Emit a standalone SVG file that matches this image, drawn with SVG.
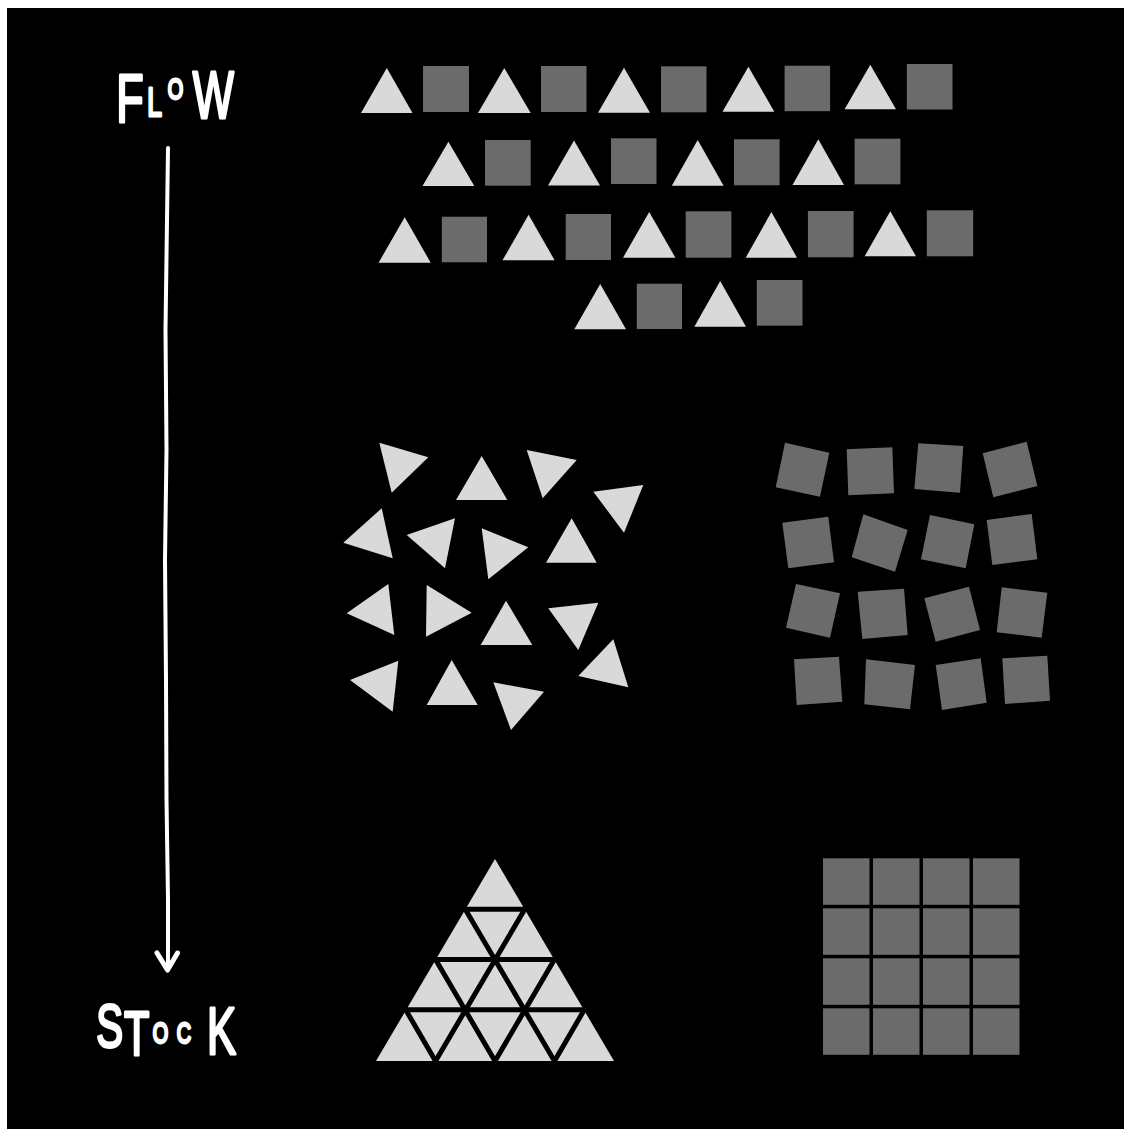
<svg xmlns="http://www.w3.org/2000/svg" width="1124" height="1129" viewBox="0 0 1124 1129">
<style>
.tri{fill:#d9d9d9}
.sq{fill:#6b6b6b}
.hand{fill:#ffffff;stroke:#ffffff;stroke-width:3;stroke-linejoin:round;font-family:"Liberation Sans",Arial,sans-serif}
.wire{fill:none;stroke:#ffffff;stroke-linecap:round;stroke-linejoin:round}
.gap{stroke:#000;stroke-width:5;fill:none}
</style>
<rect x="0" y="0" width="1124" height="1129" fill="#ffffff"/>
<rect x="7" y="8" width="1117" height="1121" fill="#000000"/>

<g id="label-flow">
<text class="hand" transform="scale(0.66,1)"><tspan x="176" y="122" font-size="68">F</tspan><tspan x="223" y="116" font-size="40">L</tspan><tspan x="254" y="99" font-size="30">O</tspan><tspan x="292" y="118" font-size="66">W</tspan></text>
</g>

<g id="label-stock">
<text class="hand" transform="scale(0.66,1)"><tspan x="146" y="1047" font-size="61">S</tspan><tspan x="188" y="1055" font-size="63">T</tspan><tspan x="231.5" y="1043" font-size="30">O</tspan><tspan x="268" y="1043" font-size="30">C</tspan><tspan x="313.6" y="1054" font-size="66">K</tspan></text>
</g>

<g id="connectors">
<path class="wire" stroke-width="4" d="M168,148 L167,220 L165.5,330 L166.5,450 L165,560 L166,680 L166.5,800 L168,900 L168,968"/>
<path class="wire" stroke-width="5" d="M157,953 L167.5,970 L177.5,953"/>
</g>

<g id="flow-rows">
<g id="row-1">
<polygon class="tri" points="361,113 386.8,68 412.5,113"/>
<rect class="sq" x="423" y="66" width="46" height="46"/>
<polygon class="tri" points="478,113 504.3,68 530.7,113"/>
<rect class="sq" x="541" y="66" width="45.5" height="46"/>
<polygon class="tri" points="598,112.7 624,67.7 650,112.7"/>
<rect class="sq" x="661" y="66.3" width="45.5" height="46"/>
<polygon class="tri" points="722.5,111.7 748.4,66.7 774.3,111.7"/>
<rect class="sq" x="784.6" y="65.7" width="45.5" height="45.5"/>
<polygon class="tri" points="844.6,109.3 870.3,64.7 896,109.3"/>
<rect class="sq" x="906.8" y="64" width="45.7" height="45.5"/>
</g>
<g id="row-2">
<polygon class="tri" points="422.5,186 448.4,141.7 474.3,186"/>
<rect class="sq" x="485" y="140" width="45.7" height="45.7"/>
<polygon class="tri" points="548,185.5 574,140.5 600,185.5"/>
<rect class="sq" x="611" y="138.3" width="45.5" height="45.7"/>
<polygon class="tri" points="671.8,185.7 697.7,140 723.6,185.7"/>
<rect class="sq" x="734" y="139.3" width="45.6" height="46"/>
<polygon class="tri" points="792.5,185 818.3,139.3 844,185"/>
<rect class="sq" x="854.6" y="138.7" width="45.8" height="45.6"/>
</g>
<g id="row-3">
<polygon class="tri" points="378.6,262.7 404.7,217.3 430.7,262.7"/>
<rect class="sq" x="441.8" y="216.7" width="45.2" height="45.6"/>
<polygon class="tri" points="502.5,260.3 528.6,214.7 554.6,260.3"/>
<rect class="sq" x="565.7" y="214" width="45.3" height="46"/>
<polygon class="tri" points="623,257.7 649.2,212 675.4,257.7"/>
<rect class="sq" x="685.7" y="211.3" width="45.7" height="46.4"/>
<polygon class="tri" points="745.7,257.7 771.4,212 797,257.7"/>
<rect class="sq" x="807.9" y="211" width="45.7" height="46.3"/>
<polygon class="tri" points="864.6,256.3 890.3,211.3 916,256.3"/>
<rect class="sq" x="926.8" y="210.3" width="46.4" height="46"/>
</g>
<g id="row-4">
<polygon class="tri" points="574.3,329.3 600.2,284 626,329.3"/>
<rect class="sq" x="636.8" y="283.7" width="45.2" height="45.3"/>
<polygon class="tri" points="694.3,326.7 720.2,281 746,326.7"/>
<rect class="sq" x="756.8" y="280" width="45.7" height="45.7"/>
</g>
</g>

<g id="scattered-triangles">
<polygon class="tri" points="379.3,442.7 428.3,457.3 391.7,492.7"/>
<polygon class="tri" points="481.7,456 456,500 507.3,500"/>
<polygon class="tri" points="526.7,450 576.7,460 542.7,498.3"/>
<polygon class="tri" points="593.3,491.7 643.3,485 624,532.7"/>
<polygon class="tri" points="381.7,508.3 343.3,542.7 392.7,558.3"/>
<polygon class="tri" points="406.7,535 455,518.3 445,568.3"/>
<polygon class="tri" points="481.7,528.3 528.3,547.3 488.3,579.3"/>
<polygon class="tri" points="571.7,518.3 546,562.7 596.7,562.7"/>
<polygon class="tri" points="388.3,584 346.7,613.3 394.3,635"/>
<polygon class="tri" points="426.7,585 471.7,612.7 426,636.7"/>
<polygon class="tri" points="506,600.7 480.7,645 532.3,645"/>
<polygon class="tri" points="548.3,608.3 598.3,602.7 578.3,650"/>
<polygon class="tri" points="613.3,639.3 578.3,676 628.3,687.3"/>
<polygon class="tri" points="398.3,660.7 350,680 392.7,711.7"/>
<polygon class="tri" points="451.7,660 426.7,705 477.7,705"/>
<polygon class="tri" points="493.3,682.3 544,691.7 511,730"/>
</g>

<g id="scattered-squares">
<polygon class="sq" points="785,442.7 829.3,452.7 820,496.7 775.7,487.3"/>
<polygon class="sq" points="846.7,449.3 892.3,447.3 894,493.3 848.3,495.3"/>
<polygon class="sq" points="918.3,443.3 963.3,446 960,492.7 914.3,489"/>
<polygon class="sq" points="982.7,453.3 1026.7,441.7 1037.3,486 993.3,497.3"/>
<polygon class="sq" points="782.3,522.7 828.3,516.7 834,562.3 788.3,568.3"/>
<polygon class="sq" points="863.3,514.3 907.7,530 895,571.7 851.7,557.3"/>
<polygon class="sq" points="930,515 974.3,524.3 965.7,568.3 921,559.3"/>
<polygon class="sq" points="986.7,520 1031.7,514 1037.3,559.3 992.3,565"/>
<polygon class="sq" points="796,584 840,593.3 830,637.7 786,627.7"/>
<polygon class="sq" points="857.7,591.7 904,588.7 907.7,635 862.3,639"/>
<polygon class="sq" points="924.3,598.3 969,586.7 980,630 935.7,641.7"/>
<polygon class="sq" points="1001.7,587.3 1047.3,592.7 1041.7,637.7 996.7,632.3"/>
<polygon class="sq" points="794,659.3 839,656.7 842.3,701.7 796.7,705"/>
<polygon class="sq" points="866,659.3 915,665 910,709.3 864.3,704.3"/>
<polygon class="sq" points="935.7,665 980.7,658.3 986.7,702.7 942,710"/>
<polygon class="sq" points="1002.3,658.3 1047.3,655.7 1050,700.7 1005,704"/>
</g>

<g id="stock-pyramid">
<polygon class="tri" points="376,1061 495,859 614,1061"/>
<g class="gap">
<line x1="460" y1="909.25" x2="530" y2="909.25"/>
<line x1="432" y1="959.5" x2="558" y2="959.5"/>
<line x1="402" y1="1009.75" x2="588" y2="1009.75"/>
<line x1="526.8" y1="905.8" x2="433.5" y2="1064.5"/>
<line x1="556.5" y1="956" x2="493" y2="1064.5"/>
<line x1="586.3" y1="1006.3" x2="552.5" y2="1064.5"/>
<line x1="463.2" y1="905.8" x2="556.5" y2="1064.5"/>
<line x1="433.5" y1="956" x2="497" y2="1064.5"/>
<line x1="403.7" y1="1006.3" x2="437.5" y2="1064.5"/>
</g>
</g>

<g id="stock-grid">
<rect class="sq" x="823" y="858.3" width="46.5" height="46.5"/>
<rect class="sq" x="873" y="858.3" width="46.5" height="46.5"/>
<rect class="sq" x="923" y="858.3" width="46.5" height="46.5"/>
<rect class="sq" x="973" y="858.3" width="46.5" height="46.5"/>
<rect class="sq" x="823" y="908.3" width="46.5" height="46.5"/>
<rect class="sq" x="873" y="908.3" width="46.5" height="46.5"/>
<rect class="sq" x="923" y="908.3" width="46.5" height="46.5"/>
<rect class="sq" x="973" y="908.3" width="46.5" height="46.5"/>
<rect class="sq" x="823" y="958.3" width="46.5" height="46.5"/>
<rect class="sq" x="873" y="958.3" width="46.5" height="46.5"/>
<rect class="sq" x="923" y="958.3" width="46.5" height="46.5"/>
<rect class="sq" x="973" y="958.3" width="46.5" height="46.5"/>
<rect class="sq" x="823" y="1008.3" width="46.5" height="46.5"/>
<rect class="sq" x="873" y="1008.3" width="46.5" height="46.5"/>
<rect class="sq" x="923" y="1008.3" width="46.5" height="46.5"/>
<rect class="sq" x="973" y="1008.3" width="46.5" height="46.5"/>
</g>
</svg>
